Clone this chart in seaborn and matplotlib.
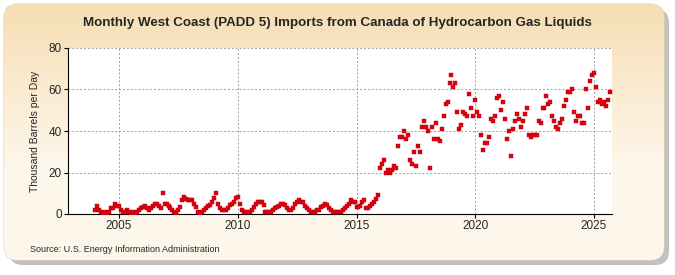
import numpy as np
import pandas as pd
import matplotlib.pyplot as plt
import seaborn as sns
from matplotlib.patches import FancyBboxPatch

# Monthly imports (thousand barrels per day)
start_year = 2004
values_2004 = [2, 4, 2, 1, 0, 1, 0, 1, 3, 3, 5, 4]
values_2005 = [4, 2, 1, 1, 2, 1, 0, 1, 0, 1, 2, 3]
values_2006 = [3.4, 4, 3, 2, 3, 4, 5, 5, 4, 3, 10, 5]
values_2007 = [5, 4, 3, 2, 1, 0.5, 2, 3.4, 6.7, 8, 7, 6.7]
values_2008 = [6.7, 6.7, 5, 3.4, 1, 0.5, 1, 2, 3, 4, 4.4, 6]
values_2009 = [7.7, 10, 5, 3, 2, 2, 2, 3, 4.4, 5, 6, 7.7]
values_2010 = [8, 5, 2, 1, 1, 1, 1, 2, 3.4, 5, 5.8, 5.8]
values_2011 = [6, 4.4, 1, 1, 1, 1, 2, 3, 3.4, 4, 5, 5]
values_2012 = [4.4, 3, 2, 2, 3, 5, 5.8, 6.7, 6, 5.8, 4, 3]
values_2013 = [2, 1, 1, 1, 2, 2, 3.4, 4, 5, 4.4, 3, 2]
values_2014 = [1, 1, 1, 1, 1, 2, 3, 4, 5, 6.7, 6, 5.8]
values_2015 = [3.4, 3.4, 4, 5.8, 6.7, 3, 3, 4, 5, 6, 7, 9]
values_2016 = [22, 24, 26, 20, 21, 20, 21, 23, 22, 33, 37, 37]
values_2017 = [40, 36, 38, 26, 24, 30, 23, 33, 30, 42, 45, 42]
values_2018 = [40, 22, 42, 36, 44, 36, 35, 41, 47, 53, 54, 63]
values_2019 = [67, 61, 63, 49, 41, 43, 49, 48, 47, 58, 51, 47]
values_2020 = [55, 49, 47, 38, 31, 34, 34, 37, 46, 45, 47, 56]
values_2021 = [57, 50, 54, 46, 36, 40, 28, 41, 45, 48, 46, 42]
values_2022 = [45, 48, 51, 38, 37, 38, 38, 38, 45, 44, 51, 51]
values_2023 = [57, 53, 54, 47, 45, 42, 41, 44, 46, 52, 55, 59]
values_2024 = [59, 60, 49, 45, 47, 47, 44, 44, 60, 51, 64, 67]
values_2025 = [68, 61, 54, 55, 53, 54, 52, 55, 59]

all_years = [values_2004, values_2005, values_2006, values_2007, values_2008,
             values_2009, values_2010, values_2011, values_2012, values_2013,
             values_2014, values_2015, values_2016, values_2017, values_2018,
             values_2019, values_2020, values_2021, values_2022, values_2023,
             values_2024, values_2025]

rows = []
for i, vals in enumerate(all_years):
    for m, v in enumerate(vals):
        rows.append({"date": start_year + i + m / 12.0, "value": v})
df = pd.DataFrame(rows)

year_ticks = [2005, 2010, 2015, 2020, 2025]
y_ticks = [0, 20, 40, 60, 80]

sns.set_style("white")
plt.rcParams['font.family'] = ['Liberation Sans Narrow', 'Liberation Sans', 'DejaVu Sans']

fig = plt.figure(figsize=(6.75, 2.75), dpi=100)
fig.patch.set_facecolor('white')

# rounded background panel with gradient and shadow
bg = fig.add_axes([0, 0, 1, 1], zorder=-10)
bg.set_xlim(0, 675)
bg.set_ylim(275, 0)
bg.axis('off')
shadow = FancyBboxPatch((9, 9), 660, 256, boxstyle="round,pad=0,rounding_size=14",
                        facecolor='#9a9a9a', edgecolor='none', alpha=0.6)
bg.add_patch(shadow)
panel = FancyBboxPatch((4, 4), 660, 256, boxstyle="round,pad=0,rounding_size=14",
                       facecolor='none', edgecolor='#e6d2ae', linewidth=0.8)
bg.add_patch(panel)
grad = np.linspace(0, 1, 256).reshape(-1, 1)
top = np.array([0.965, 0.870, 0.706])
bottom = np.array([0.996, 0.965, 0.918])
img = top + (bottom - top) * np.clip(grad * 1.6, 0, 1)[:, :, None].reshape(256, 1, 1) * np.ones((1, 1, 3))
im = bg.imshow(img, extent=(4, 664, 260, 4), aspect='auto', zorder=1)
im.set_clip_path(panel)

ax = fig.add_axes([68 / 675, 61 / 275, 544 / 675, 166 / 275])
ax.set_facecolor('white')
sns.scatterplot(data=df, x='date', y='value', marker='s', s=11, color='#e1000f',
                edgecolor='#b0000a', linewidth=0.3, ax=ax, zorder=3, legend=False)

ax.set_xlim(2002.85, 2025.76)
ax.set_ylim(0, 80)
ax.set_xticks(year_ticks)
ax.set_xticklabels([str(y) for y in year_ticks])
ax.set_yticks(y_ticks)
ax.grid(True, color='#a0a0a0', linestyle=(0, (2, 2)), linewidth=0.7)
for s in ['top', 'right']:
    ax.spines[s].set_visible(False)
ax.spines['left'].set_color('black')
ax.spines['bottom'].set_color('black')
ax.tick_params(axis='both', labelsize=8.5, length=3, color='black', direction='out',
               bottom=True, left=True, pad=1.5)
ax.set_xlabel("")
ax.set_ylabel("Thousand Barrels per Day", fontsize=7.5, labelpad=6)

fig.text(0.5, 0.915, "Monthly West Coast (PADD 5) Imports from Canada of Hydrocarbon Gas Liquids",
         ha='center', va='center', fontsize=9.6, fontweight='bold')
fig.text(30 / 675, 1 - 249 / 275, "Source: U.S. Energy Information Administration",
         ha='left', va='center', fontsize=6.5)

fig.savefig('out.png', dpi=100)
